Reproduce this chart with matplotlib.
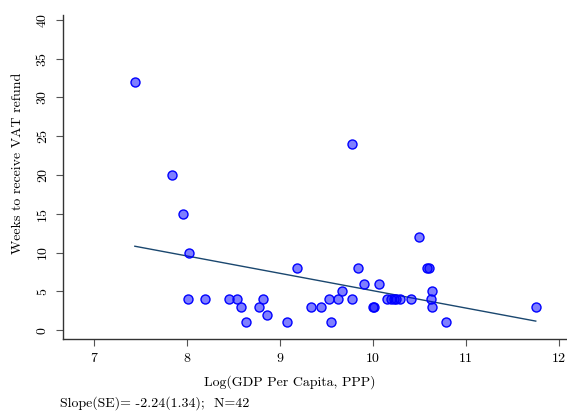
import numpy as np
import matplotlib
matplotlib.use('Agg')
import matplotlib.pyplot as plt
import matplotlib.transforms as mtransforms

plt.rcParams['font.family'] = 'serif'
plt.rcParams['font.serif'] = ['cmr10', 'DejaVu Serif']
plt.rcParams['axes.unicode_minus'] = False
plt.rcParams['mathtext.fontset'] = 'cm'

# log GDP per capita (PPP) and weeks to receive a VAT refund, one entry per country
log_gdp = [7.44, 7.84, 7.96, 8.02, 8.01, 8.19, 8.45, 8.54, 8.58, 8.63,
           8.77, 8.82, 8.86, 9.08, 9.18, 9.33, 9.44, 9.53, 9.55, 9.62,
           9.67, 9.77, 9.77, 9.84, 9.90, 10.00, 10.01, 10.06, 10.15, 10.19,
           10.23, 10.29, 10.41, 10.49, 10.58, 10.60, 10.62, 10.63, 10.64, 10.79,
           11.75, 10.25]
weeks = [32, 20, 15, 10, 4, 4, 4, 4, 3, 1,
         3, 4, 2, 1, 8, 3, 3, 4, 1, 4,
         5, 4, 24, 8, 6, 3, 3, 6, 4, 4,
         4, 4, 4, 12, 8, 8, 4, 5, 3, 1,
         3, 4]
y_ticks = [0, 5, 10, 15, 20, 25, 30, 35, 40]

slope = -2.24
se = 1.34

x = np.array(log_gdp)
y = np.array(weeks)
intercept = y.mean() - slope * x.mean()

fig = plt.figure(figsize=(5.67, 4.12), dpi=100)
ax = fig.add_axes([0.111, 0.177, 0.889, 0.787])

ax.scatter(x, y, s=42, facecolor=(0, 0, 1, 0.5), edgecolor='#0000ff',
           linewidth=1.0, zorder=3)

# fitted line over the observed range
xs = np.array([x.min(), x.max()])
ax.plot(xs, intercept + slope * xs, color='#1a476f', linewidth=1.0, zorder=2)

ax.set_xlim(6.667, 12.086)
ax.set_ylim(-1.16, 40.65)
ax.set_xticks([7, 8, 9, 10, 11, 12])
ax.set_yticks(y_ticks)
ax.tick_params(axis='y', length=5, labelleft=False, color='#555555')
ax.tick_params(axis='x', length=5, pad=5, labelsize=10, color='#555555')

# rotated y tick labels, placed a fixed distance left of the spine
trans = mtransforms.blended_transform_factory(ax.transAxes, ax.transData)
for t in y_ticks:
    ax.text(-0.04, t, str(t), transform=trans, rotation=90,
            ha='center', va='center', fontsize=10)

for side in ('top', 'right'):
    ax.spines[side].set_visible(False)
for side in ('left', 'bottom'):
    ax.spines[side].set_color('#333333')
    ax.spines[side].set_linewidth(1.0)

ax.set_xlabel('Log(GDP Per Capita, PPP)', fontsize=10)
ax.set_ylabel('Weeks to receive VAT refund', fontsize=10)
ax.yaxis.set_label_coords(-0.077, 0.543)
ax.xaxis.set_label_coords(0.45, -0.112)

fig.text(60 / 567, 1 - 403 / 412,
         'Slope(SE)= %.2f(%.2f);  N=%d' % (slope, se, len(x)),
         fontsize=10, va='center', ha='left')

fig.savefig('out.png', dpi=100, facecolor='white')
